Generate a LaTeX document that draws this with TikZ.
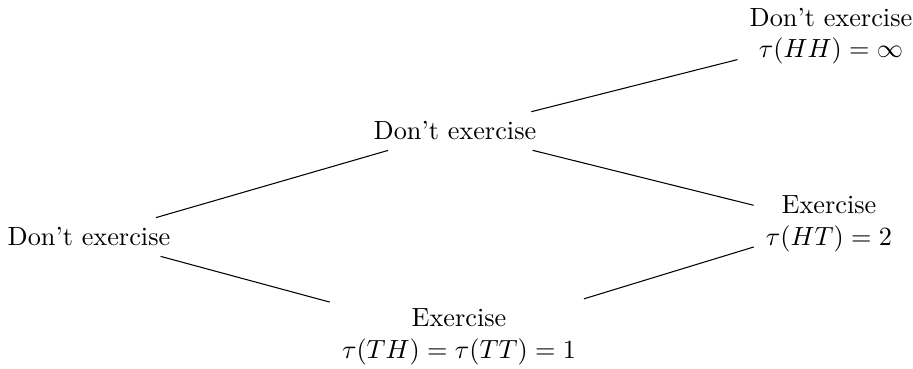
\documentclass[tikz,border=0pt]{standalone}
\begin{document}
\begin{tikzpicture}[x=0.3807pt,y=-0.3807pt,
  state/.style={align=center,inner sep=3.33pt},
  branch/.style={shorten <=1.2pt,shorten >=1.2pt}]
\useasboundingbox (0,0) rectangle (913,368);
\node[state] (r) at (89,237) {Don't exercise};
\node[state] (u) at (455,131) {Don't exercise};
\node[state] (d) at (459,337) {Exercise\\$\tau(TH)=\tau(TT)=1$};
\node[state] (uu) at (831,36) {Don't exercise\\$\tau(HH)=\infty$};
\node[state] (ud) at (829,224) {Exercise\\$\tau(HT)=2$};
\draw[branch] (r) -- (u);
\draw[branch] (r) -- (d);
\draw[branch] (u) -- (uu);
\draw[branch] (u) -- (ud);
\draw[branch] (d) -- (ud);
\end{tikzpicture}
\end{document}
